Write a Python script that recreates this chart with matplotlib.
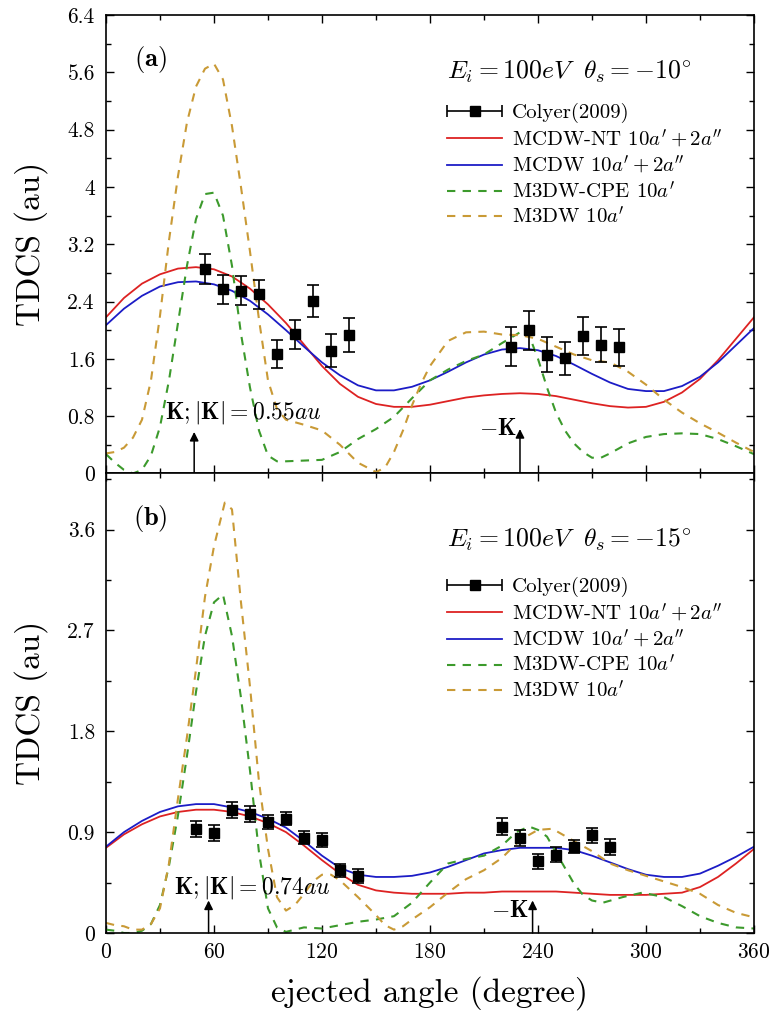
import numpy as np
import matplotlib
matplotlib.use('Agg')
import matplotlib.pyplot as plt
from matplotlib.ticker import FixedLocator, FuncFormatter
from matplotlib.legend_handler import HandlerErrorbar

plt.rcParams['font.family'] = 'serif'
plt.rcParams['font.serif'] = ['cmr10']
plt.rcParams['mathtext.fontset'] = 'cm'
plt.rcParams['axes.unicode_minus'] = False
plt.rcParams['axes.formatter.use_mathtext'] = True

RED = '#dd2222'
BLUE = '#1c1cc6'
GREEN = '#3c9a2c'
GOLD = '#c99a36'

# ---- panel (a): E_i = 100 eV, theta_s = -10 deg ----
a_exp_x = [55, 65, 75, 85, 95, 105, 115, 125, 135, 225, 235, 245, 255, 265, 275, 285]
a_exp_y = [2.86, 2.57, 2.55, 2.50, 1.67, 1.94, 2.41, 1.71, 1.93, 1.77, 2.00, 1.66, 1.61, 1.92, 1.80, 1.76]
a_exp_err = [0.21, 0.20, 0.20, 0.20, 0.20, 0.20, 0.22, 0.23, 0.24, 0.27, 0.27, 0.24, 0.23, 0.26, 0.24, 0.26]

a_th_x = [0, 10, 20, 30, 40, 50, 60, 70, 80, 90, 100, 110, 120, 130, 140, 150, 160, 170, 180,
          190, 200, 210, 220, 230, 240, 250, 260, 270, 280, 290, 300, 310, 320, 330, 340, 350, 360]
a_mcdw_nt = [2.18, 2.45, 2.65, 2.78, 2.86, 2.88, 2.85, 2.75, 2.58, 2.36, 2.10, 1.80, 1.50, 1.25,
             1.07, 0.97, 0.93, 0.93, 0.96, 1.01, 1.06, 1.09, 1.11, 1.12, 1.11, 1.08, 1.03, 0.98,
             0.94, 0.92, 0.93, 1.00, 1.13, 1.32, 1.58, 1.88, 2.18]
a_mcdw = [2.07, 2.30, 2.48, 2.61, 2.67, 2.68, 2.64, 2.55, 2.41, 2.22, 2.00, 1.77, 1.55, 1.37,
          1.23, 1.16, 1.16, 1.21, 1.30, 1.42, 1.55, 1.66, 1.73, 1.75, 1.72, 1.64, 1.52, 1.39,
          1.27, 1.18, 1.15, 1.15, 1.22, 1.35, 1.55, 1.79, 2.03]

a_cpe_x = [0, 5, 10, 15, 20, 25, 30, 35, 40, 45, 50, 55, 60, 65, 70, 75, 80, 85, 90, 95, 100,
           110, 120, 130, 140, 150, 160, 170, 180, 190, 200, 210, 220, 230, 234, 240, 245, 250,
           255, 260, 265, 270, 275, 280, 290, 300, 310, 320, 330, 340, 350, 360]
a_cpe = [0.27, 0.15, 0.05, 0.0, 0.05, 0.25, 0.65, 1.3, 2.1, 2.9, 3.55, 3.9, 3.92, 3.6, 2.9, 1.95,
         1.2, 0.6, 0.25, 0.17, 0.17, 0.18, 0.19, 0.30, 0.48, 0.62, 0.79, 1.05, 1.30, 1.45, 1.57,
         1.66, 1.82, 1.97, 2.00, 1.60, 1.20, 0.85, 0.60, 0.42, 0.30, 0.22, 0.22, 0.28, 0.42, 0.51,
         0.55, 0.56, 0.55, 0.48, 0.38, 0.27]

a_m3dw_x = [0, 5, 10, 15, 20, 25, 30, 35, 40, 45, 50, 55, 60, 65, 70, 75, 80, 85, 90, 95, 100,
            110, 120, 130, 140, 150, 155, 160, 165, 170, 175, 180, 190, 200, 210, 220, 230, 240,
            250, 260, 270, 280, 290, 300, 310, 320, 330, 340, 350, 360]
a_m3dw = [0.28, 0.30, 0.36, 0.50, 0.75, 1.30, 2.20, 3.25, 4.15, 4.90, 5.40, 5.65, 5.72, 5.50,
          4.85, 4.00, 3.10, 2.15, 1.30, 0.90, 0.75, 0.68, 0.60, 0.40, 0.15, 0.02, 0.08, 0.30,
          0.60, 0.95, 1.25, 1.50, 1.85, 1.97, 1.98, 1.94, 1.93, 1.88, 1.77, 1.66, 1.58, 1.55,
          1.42, 1.24, 1.03, 0.85, 0.70, 0.57, 0.43, 0.30]

# ---- panel (b): E_i = 100 eV, theta_s = -15 deg ----
b_exp_x = [50, 60, 70, 80, 90, 100, 110, 120, 130, 140, 220, 230, 240, 250, 260, 270, 280]
b_exp_y = [0.93, 0.89, 1.10, 1.06, 0.99, 1.02, 0.85, 0.83, 0.56, 0.51, 0.95, 0.85, 0.64, 0.70,
           0.77, 0.87, 0.77]
b_exp_err = [0.07, 0.07, 0.07, 0.07, 0.06, 0.06, 0.06, 0.06, 0.06, 0.06, 0.075, 0.07, 0.065,
             0.065, 0.06, 0.065, 0.07]

b_th_x = a_th_x
b_mcdw_nt = [0.76, 0.88, 0.97, 1.04, 1.08, 1.10, 1.10, 1.08, 1.04, 0.98, 0.90, 0.78, 0.65, 0.53,
             0.43, 0.38, 0.36, 0.35, 0.35, 0.35, 0.36, 0.36, 0.37, 0.37, 0.37, 0.37, 0.36, 0.35,
             0.34, 0.34, 0.34, 0.35, 0.36, 0.41, 0.50, 0.62, 0.75]
b_mcdw = [0.77, 0.90, 1.00, 1.08, 1.13, 1.15, 1.15, 1.12, 1.08, 1.02, 0.94, 0.82, 0.69, 0.58,
          0.52, 0.50, 0.50, 0.51, 0.54, 0.59, 0.65, 0.71, 0.74, 0.76, 0.76, 0.76, 0.74, 0.69,
          0.63, 0.57, 0.52, 0.50, 0.50, 0.53, 0.60, 0.68, 0.77]

b_cpe_x = [0, 5, 10, 15, 20, 25, 30, 35, 40, 45, 50, 55, 60, 65, 70, 75, 80, 85, 90, 95, 100,
           110, 120, 130, 140, 150, 160, 170, 180, 190, 200, 210, 220, 228, 235, 240, 245, 250,
           255, 260, 265, 270, 276, 287, 298, 310, 320, 330, 340, 350, 360]
b_cpe = [0.03, 0.02, 0.0, 0.0, 0.02, 0.08, 0.25, 0.60, 1.05, 1.58, 2.15, 2.65, 2.95, 3.02, 2.65,
         2.10, 1.45, 0.72, 0.22, 0.05, 0.01, 0.05, 0.04, 0.07, 0.10, 0.12, 0.15, 0.27, 0.45,
         0.62, 0.66, 0.69, 0.78, 0.90, 0.95, 0.92, 0.86, 0.72, 0.58, 0.44, 0.34, 0.29, 0.27,
         0.32, 0.36, 0.32, 0.24, 0.15, 0.09, 0.05, 0.04]

b_m3dw_x = [0, 5, 10, 15, 20, 25, 30, 35, 40, 45, 50, 55, 60, 66, 70, 75, 80, 85, 90, 95, 100,
            105, 110, 115, 120, 125, 130, 140, 150, 155, 160, 165, 170, 180, 190, 200, 210, 220,
            230, 240, 248, 260, 270, 280, 290, 300, 310, 320, 330, 340, 350, 360]
b_m3dw = [0.09, 0.07, 0.06, 0.03, 0.03, 0.08, 0.22, 0.62, 1.20, 1.75, 2.35, 3.00, 3.45, 3.84,
          3.78, 2.95, 2.20, 1.35, 0.75, 0.32, 0.20, 0.25, 0.35, 0.46, 0.52, 0.52, 0.47, 0.32,
          0.16, 0.07, 0.03, 0.06, 0.12, 0.23, 0.36, 0.48, 0.56, 0.67, 0.83, 0.92, 0.93, 0.82,
          0.73, 0.62, 0.56, 0.51, 0.46, 0.41, 0.35, 0.25, 0.18, 0.14]

labels = ['Colyer(2009)', r"MCDW-NT $10a'+2a''$", r"MCDW $10a'+2a''$",
          r"M3DW-CPE $10a'$", r"M3DW $10a'$"]

# momentum transfer direction (deg) in each panel
a_k_angle, a_mk_angle = 49, 230
b_k_angle, b_mk_angle = 57, 237

xticks = [0, 60, 120, 180, 240, 300, 360]
a_yticks = [0, 0.8, 1.6, 2.4, 3.2, 4, 4.8, 5.6, 6.4]
b_yticks = [0, 0.9, 1.8, 2.7, 3.6]

fig = plt.figure(figsize=(7.73, 10.18), dpi=100)
ax_a = fig.add_axes([0.1371, 0.5349, 0.8383, 0.4504])
ax_b = fig.add_axes([0.1371, 0.0835, 0.8383, 0.4514])

dash = (0, (4, 3.5))


def draw_panel(ax, ex, ey, eerr, thx, nt, mc, cx, cpe, mx, m3, yticks, ymax):
    ax.plot(thx, nt, color=RED, lw=1.3, label=labels[1])
    ax.plot(thx, mc, color=BLUE, lw=1.3, label=labels[2])
    ax.plot(cx, cpe, color=GREEN, lw=1.5, linestyle=dash, label=labels[3])
    ax.plot(mx, m3, color=GOLD, lw=1.5, linestyle=dash, label=labels[4])
    ax.errorbar(ex, ey, yerr=eerr, fmt='s', color='k', ms=7, elinewidth=1.2,
                capsize=4, capthick=1.2, zorder=5)

    ax.set_xlim(0, 360)
    ax.set_ylim(0, ymax)
    ax.xaxis.set_major_locator(FixedLocator(xticks))
    ax.xaxis.set_minor_locator(FixedLocator(np.arange(30, 360, 60)))
    step = yticks[1]
    ax.yaxis.set_major_locator(FixedLocator(yticks))
    ax.yaxis.set_minor_locator(FixedLocator(np.arange(step / 2, ymax, step)))
    ax.yaxis.set_major_formatter(FuncFormatter(lambda v, p: '%g' % round(v, 3)))
    ax.tick_params(which='both', direction='in', top=True, right=True, labelsize=15.5, width=1.0)
    ax.tick_params(which='major', length=6)
    ax.tick_params(which='minor', length=3.5)
    ax.tick_params(axis='y', pad=8)
    ax.tick_params(axis='x', pad=7)
    for s in ax.spines.values():
        s.set_linewidth(1.2)

    ax.set_ylabel('TDCS (au)', fontsize=24)
    ax.yaxis.set_label_coords(-0.09, 0.5)

    # legend with a horizontal error-bar sample for the measurements
    proxy = ax.errorbar([np.nan], [np.nan], xerr=[1], fmt='s', color='k', ms=7,
                        elinewidth=1.2, capsize=4, capthick=1.2)
    h, _ = ax.get_legend_handles_labels()
    lines = [l for l in h if not hasattr(l, 'has_xerr')]
    return proxy, lines


proxy_a, lines_a = draw_panel(ax_a, a_exp_x, a_exp_y, a_exp_err, a_th_x, a_mcdw_nt, a_mcdw,
                              a_cpe_x, a_cpe, a_m3dw_x, a_m3dw, a_yticks, 6.4)
proxy_b, lines_b = draw_panel(ax_b, b_exp_x, b_exp_y, b_exp_err, b_th_x, b_mcdw_nt, b_mcdw,
                              b_cpe_x, b_cpe, b_m3dw_x, b_m3dw, b_yticks, 4.1)

ax_a.tick_params(axis='x', labelbottom=False)
ax_b.set_xlabel('ejected angle (degree)', fontsize=24, labelpad=10)

for ax, proxy, lines, anchor in [(ax_a, proxy_a, lines_a, 0.808), (ax_b, proxy_b, lines_b, 0.775)]:
    ax.legend([proxy] + lines, labels, loc='upper left', bbox_to_anchor=(0.527, anchor),
              frameon=False, fontsize=15, handlelength=2.6, handletextpad=0.5,
              labelspacing=0.2, borderpad=0, borderaxespad=0,
              handler_map={proxy: HandlerErrorbar(xerr_size=1.3)})

ax_a.text(0.068, 0.902, r'$\mathbf{(a)}$', transform=ax_a.transAxes, fontsize=19,
          ha='center', va='center')
ax_b.text(0.068, 0.902, r'$\mathbf{(b)}$', transform=ax_b.transAxes, fontsize=19,
          ha='center', va='center')
ax_a.text(0.526, 0.876, r'$E_i=100eV\ \ \theta_s=-10^{\circ}$', transform=ax_a.transAxes,
          fontsize=18.5, ha='left', va='center')
ax_b.text(0.526, 0.856, r'$E_i=100eV\ \ \theta_s=-15^{\circ}$', transform=ax_b.transAxes,
          fontsize=18.5, ha='left', va='center')

arrow = dict(arrowstyle='-|>', color='k', lw=1.1, mutation_scale=13, shrinkA=0, shrinkB=0)
ax_a.annotate('', xy=(a_k_angle, 0.58), xytext=(a_k_angle, 0), arrowprops=arrow)
ax_a.annotate('', xy=(a_mk_angle, 0.62), xytext=(a_mk_angle, 0), arrowprops=arrow)
ax_a.text(33, 0.85, r'$\mathbf{K};|\mathbf{K}|=0.55au$', fontsize=17, ha='left', va='center')
ax_a.text(a_mk_angle - 2, 0.62, r'$-\mathbf{K}$', fontsize=17, ha='right', va='center')

ax_b.annotate('', xy=(b_k_angle, 0.29), xytext=(b_k_angle, 0), arrowprops=arrow)
ax_b.annotate('', xy=(b_mk_angle, 0.29), xytext=(b_mk_angle, 0), arrowprops=arrow)
ax_b.text(38, 0.41, r'$\mathbf{K};|\mathbf{K}|=0.74au$', fontsize=17, ha='left', va='center')
ax_b.text(b_mk_angle - 2, 0.2, r'$-\mathbf{K}$', fontsize=17, ha='right', va='center')

fig.savefig('out.png', dpi=100)
